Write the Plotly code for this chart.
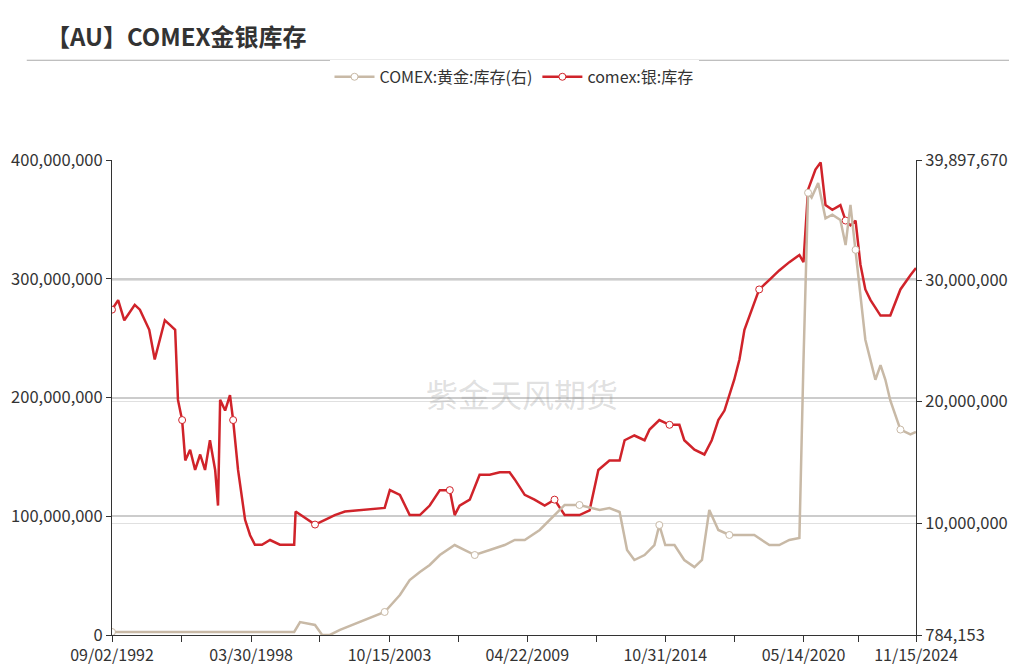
import plotly.graph_objects as go

# silver inventory (oz), left axis
silver_dates = ["1992-09-02", "1992-12-01", "1993-03-01", "1993-08-01", "1993-10-15", "1994-03-01", "1994-05-20",
                "1994-08-01", "1994-10-15", "1995-01-01", "1995-03-15", "1995-04-25", "1995-06-25", "1995-08-10",
                "1995-10-20", "1996-01-01", "1996-03-15", "1996-05-25", "1996-08-05", "1996-10-20", "1996-12-01",
                "1997-01-01", "1997-03-15", "1997-05-25", "1997-07-10", "1997-09-20", "1998-01-01", "1998-03-15",
                "1998-05-25", "1998-09-05", "1999-01-01", "1999-05-25", "1999-10-20", "1999-12-20", "2000-01-10",
                "2000-05-25", "2000-10-20", "2001-03-15", "2001-08-05", "2002-01-01", "2002-08-05", "2003-08-05",
                "2003-10-20", "2004-03-15", "2004-08-05", "2005-01-01", "2005-05-25", "2005-10-20", "2006-03-15",
                "2006-05-25", "2006-08-05", "2007-01-01", "2007-05-25", "2007-10-20", "2008-03-15", "2008-08-05",
                "2008-10-20", "2009-03-15", "2009-08-05", "2010-01-01", "2010-05-25", "2010-10-20", "2011-05-25",
                "2011-10-20", "2012-02-25", "2012-08-05", "2013-01-01", "2013-03-15", "2013-08-05", "2014-01-01",
                "2014-03-15", "2014-08-05", "2015-01-01", "2015-05-25", "2015-08-05", "2016-01-01", "2016-05-25",
                "2016-09-10", "2016-12-15", "2017-03-15", "2017-08-05", "2017-10-20", "2018-01-01", "2018-04-20",
                "2018-08-05", "2019-01-01", "2019-05-25", "2019-10-20", "2020-03-15", "2020-05-14", "2020-07-20",
                "2020-11-05", "2021-01-20", "2021-04-01", "2021-07-10", "2021-11-05", "2022-01-20", "2022-04-01",
                "2022-06-15", "2022-08-25", "2022-11-05", "2023-01-20", "2023-06-15", "2023-11-05", "2024-04-01",
                "2024-08-25", "2024-11-15"]
silver_moz = [274, 282, 265, 278, 274, 257, 232, 248, 265, 261, 257, 198, 181, 147, 156, 139, 152, 139, 164, 139, 109,
              198, 189, 202, 181, 139, 97, 84, 76, 76, 80, 76, 76, 76, 104, 99, 93, 97, 101, 104, 105, 107, 122, 118,
              101, 101, 109, 122, 122, 101, 109, 114, 135, 135, 137, 137, 131, 118, 114, 109, 114, 101, 101, 105, 139,
              147, 147, 164, 168, 164, 173, 181, 177, 177, 164, 156, 152, 164, 181, 189, 215, 232, 257, 274, 291, 299,
              307, 314, 320, 314, 375, 392, 398, 362, 358, 362, 349, 345, 349, 312, 291, 282, 269, 269, 291, 303, 309]

# gold inventory (oz), right axis
gold_dates = ["1992-09-02", "1999-12-20", "2000-03-15", "2000-10-20", "2001-02-01", "2001-05-25", "2001-10-20",
              "2002-08-05", "2003-08-05", "2004-03-15", "2004-08-05", "2005-01-01", "2005-05-25", "2005-10-20",
              "2006-05-25", "2006-10-20", "2007-03-15", "2007-10-20", "2008-05-25", "2008-10-20", "2009-03-15",
              "2009-10-20", "2010-05-25", "2010-10-20", "2011-05-25", "2012-03-15", "2012-08-05", "2013-01-01",
              "2013-04-20", "2013-08-05", "2014-01-01", "2014-05-25", "2014-08-05", "2014-10-31", "2015-03-15",
              "2015-08-05", "2016-01-01", "2016-04-20", "2016-08-05", "2016-12-15", "2017-05-25", "2018-01-01",
              "2018-05-25", "2019-01-01", "2019-05-25", "2019-10-20", "2020-03-15", "2020-05-14", "2020-07-20",
              "2020-09-10", "2020-12-15", "2021-04-01", "2021-07-10", "2021-11-05", "2022-01-20", "2022-04-01",
              "2022-06-15", "2022-08-25", "2022-11-05", "2023-01-20", "2023-04-01", "2023-06-15", "2023-08-25",
              "2023-11-05", "2024-04-01", "2024-08-25", "2024-11-15"]
gold_moz = [1.03, 1.03, 1.85, 1.61, 0.79, 0.79, 1.20, 1.85, 2.68, 4.08, 5.31, 5.97, 6.55, 7.37, 8.19, 7.78, 7.37, 7.78,
            8.19, 8.61, 8.61, 9.43, 10.67, 11.49, 11.49, 11.08, 11.24, 10.91, 7.78, 6.96, 7.37, 8.19, 9.84, 8.19, 8.19,
            6.96, 6.38, 6.96, 11.08, 9.43, 9.02, 9.02, 9.02, 8.19, 8.19, 8.61, 8.77, 23.4, 37.2, 36.8, 38.0, 35.1,
            35.4, 34.95, 32.9, 36.2, 32.5, 29.2, 25.1, 23.4, 21.8, 23.0, 21.8, 20.1, 17.7, 17.3, 17.5]

x_tickvals = ["1992-09-02", "1995-06-16", "1998-03-30", "2000-12-22", "2003-10-15", "2006-07-19", "2009-04-22",
              "2012-01-26", "2014-10-31", "2017-08-03", "2020-05-14", "2022-08-01", "2024-11-15"]
x_ticktext = ["09/02/1992", "", "03/30/1998", "", "10/15/2003", "", "04/22/2009", "", "10/31/2014", "",
              "05/14/2020", "", "11/15/2024"]

FONT = "Noto Sans CJK SC"
GOLD = "#c8b9a6"
RED = "#d0232a"

fig = go.Figure()
fig.add_trace(go.Scatter(
    x=gold_dates, y=[v * 1e6 for v in gold_moz], name="COMEX:黄金:库存(右)", yaxis="y2",
    mode="lines+markers", line=dict(color=GOLD, width=2.5),
    marker=dict(symbol="circle", size=7, color="white", line=dict(color=GOLD, width=1), maxdisplayed=9),
))
fig.add_trace(go.Scatter(
    x=silver_dates, y=[v * 1e6 for v in silver_moz], name="comex:银:库存",
    mode="lines+markers", line=dict(color=RED, width=2.5),
    marker=dict(symbol="circle", size=7, color="white", line=dict(color=RED, width=1), maxdisplayed=9),
))

fig.update_layout(
    template="none",
    width=1017, height=671,
    margin=dict(l=104, r=109, t=152, b=44),
    paper_bgcolor="white", plot_bgcolor="white",
    font=dict(family=FONT, size=16, color="#333"),
    showlegend=True,
    legend=dict(orientation="h", x=0.5, xanchor="center", y=1.175, yanchor="middle",
                font=dict(size=16, color="#333"), itemwidth=40),
    xaxis=dict(type="date", range=["1992-09-02", "2024-11-15"], tickvals=x_tickvals, ticktext=x_ticktext,
               showgrid=False, showline=True, linecolor="#333", ticks="outside", ticklen=6, tickcolor="#333",
               automargin=False, tickfont=dict(size=16)),
    yaxis=dict(range=[0, 400e6], tickvals=[0, 100e6, 200e6, 300e6, 400e6],
               ticktext=["0", "100,000,000", "200,000,000", "300,000,000", "400,000,000"],
               showgrid=True, gridcolor="#cccccc", gridwidth=2, showline=True, linecolor="#333",
               ticks="outside", ticklen=5, tickcolor="#333", automargin=False, zeroline=False,
               tickfont=dict(size=16.5)),
    yaxis2=dict(overlaying="y", side="right", range=[784153, 39897670],
                tickvals=[784153, 10e6, 20e6, 30e6, 39897670],
                ticktext=["784,153", "10,000,000", "20,000,000", "30,000,000", "39,897,670"],
                showgrid=True, gridcolor="#e0e0e0", showline=True, linecolor="#333",
                ticks="outside", ticklen=5, tickcolor="#333", automargin=False, zeroline=False,
                tickfont=dict(size=16.5)),
    annotations=[
        dict(text="<b>【AU】COMEX金银库存</b>", xref="paper", yref="paper", x=-0.085, y=1.263,
             xanchor="left", yanchor="middle", showarrow=False, font=dict(size=24, color="#333")),
        dict(text="紫金天风期货", xref="paper", yref="paper", x=0.51, y=0.51, showarrow=False,
             font=dict(size=32, color="rgba(150,150,150,0.3)")),
    ],
    shapes=[
        dict(type="line", xref="paper", yref="paper", x0=-0.106, x1=1.2, y0=1.21, y1=1.21,
             line=dict(color="#aaaaaa", width=1)),
    ],
)

fig.write_html("out.html")
